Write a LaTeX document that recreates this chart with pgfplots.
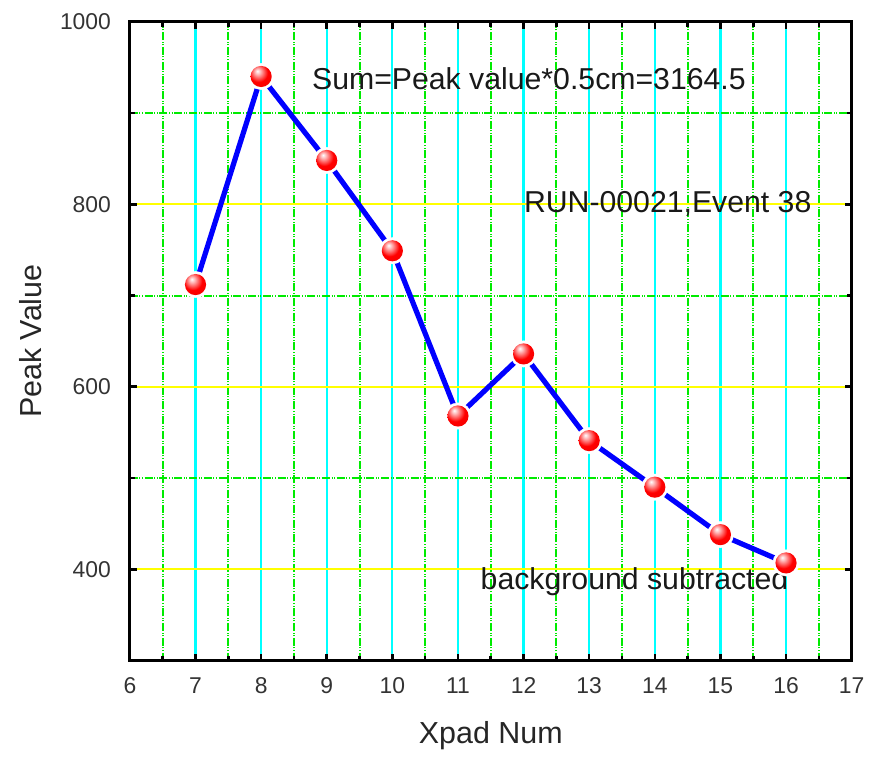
\documentclass[border=0pt]{standalone}
\usepackage{fontspec}
\setmainfont{Liberation Sans}
\usepackage{pgfplots}
\pgfplotsset{compat=1.18}

\definecolor{gridcyan}{RGB}{0,255,255}
\definecolor{gridyellow}{RGB}{255,255,0}
\definecolor{gridgreen}{RGB}{0,235,0}
\definecolor{lineblue}{RGB}{0,0,255}

% glossy red sphere used as the point marker
\pgfdeclareradialshading{redball}{\pgfpoint{-9bp}{13bp}}{%
  color(0bp)=(white); color(7bp)=(red!30!white); color(22bp)=(red);
  color(50bp)=(red!92!black); color(70bp)=(red!88!black)}
\pgfdeclareplotmark{redball}{%
  \pgfpathcircle{\pgfpointorigin}{\pgfplotmarksize}%
  \pgfshadepath{redball}{0}%
  \pgfusepath{discard}}

\pgfplotstableread{
x  y
7  712
8  940
9  848
10 749
11 568
12 636
13 541
14 490
15 438
16 407
}\peaks

\begin{document}
\begin{tikzpicture}
\begin{axis}[
  scale only axis,
  width=361.5bp, height=320bp,
  xmin=6, xmax=17, ymin=300, ymax=1000,
  xtick={6,...,17},
  minor x tick num=1,
  ytick={400,600,800,1000},
  minor ytick={500,700,900},
  tick align=inside,
  major tick length=3.5bp,
  minor tick length=2.5bp,
  tick style={black, line width=1.3bp},
  axis line style={black, line width=1.5bp},
  grid=both,
  major x grid style={gridcyan, line width=1.1bp},
  major y grid style={gridyellow, line width=1.1bp},
  minor grid style={gridgreen, line width=1bp,
    dash pattern=on 4bp off 0.8bp on 0.5bp off 0.8bp on 0.5bp off 0.8bp},
  /pgf/number format/assume math mode=true,
  /pgf/number format/1000 sep={},
  tick label style={font=\fontsize{11.5}{13}\selectfont, text=black!80},
  xticklabel style={anchor=center, yshift=-12.5bp},
  yticklabel style={anchor=east, xshift=-6bp},
  xlabel={Xpad Num},
  ylabel={Peak Value},
  every axis x label/.style={at={(axis description cs:0.5,-0.118)}, anchor=center,
    font=\fontsize{15.3}{17}\selectfont, text=black!85},
  every axis y label/.style={at={(axis description cs:-0.137,0.5)}, rotate=90, anchor=center,
    font=\fontsize{15.3}{17}\selectfont, text=black!85},
  clip=false,
]
% connecting line
\addplot[lineblue, line width=2.6bp, line join=round] table[x=x, y=y] {\peaks};
% white halo so the line stops short of each point
\addplot[only marks, mark=*, mark size=6.6bp, mark options={fill=white, draw=white, line width=0.2bp}] table[x=x, y=y] {\peaks};
% shaded red points
\addplot[only marks, mark=redball, mark size=5.3bp] table[x=x, y=y] {\peaks};

\node[anchor=west, font=\fontsize{15.2}{17}\selectfont, text=black!90] at (axis cs:8.67,938) {Sum=Peak value*0.5cm=3164.5};
\node[anchor=west, font=\fontsize{15.2}{17}\selectfont, text=black!90] at (axis cs:11.9,800) {RUN-00021,Event 38};
\node[anchor=west, font=\fontsize{15.2}{17}\selectfont, text=black!90] at (axis cs:11.24,386) {background subtracted};

% white margin around the figure
\path (axis description cs:-0.18,1.034) (axis description cs:1.025,-0.14);
\end{axis}
\end{tikzpicture}
\end{document}
